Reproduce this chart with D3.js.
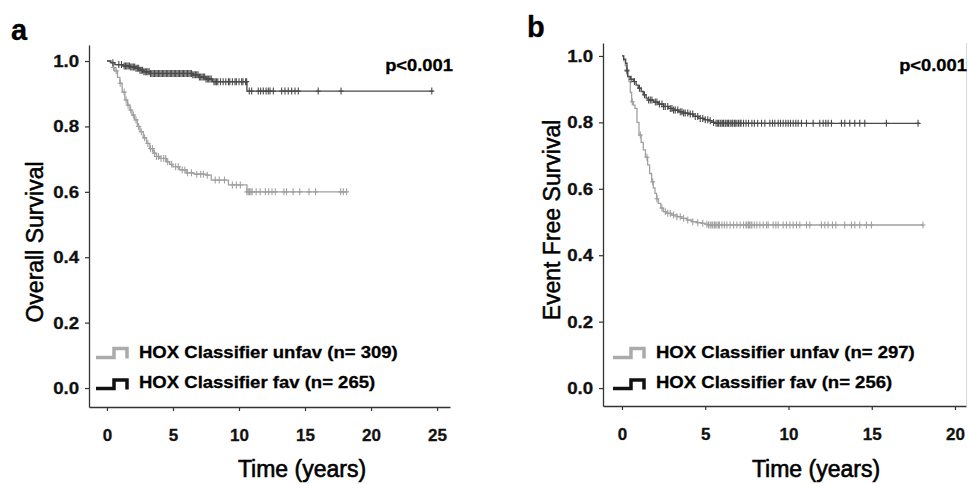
<!DOCTYPE html>
<html>
<head>
<meta charset="utf-8">
<script src="https://cdn.jsdelivr.net/npm/d3@7/dist/d3.min.js"></script>
<style>
  html, body { margin: 0; padding: 0; background: #fff; }
  svg { display: block; font-family: "Liberation Sans", Arial, sans-serif; }
</style>
</head>
<body>
<svg id="chart" width="969" height="484"></svg>
<script>
// ---- Data -------------------------------------------------------------
const survTicks = [0, 0.2, 0.4, 0.6, 0.8, 1.0];
const timeTicksOS = [0, 5, 10, 15, 20, 25];
const timeTicksEFS = [0, 5, 10, 15, 20];

const groupNames = ["HOX Classifier unfav", "HOX Classifier fav"];
const nOS = [309, 265];
const nEFS = [297, 256];
const pValueText = "p<0.001";

// Kaplan-Meier steps: [time (years), survival]
const osUnfav = [[0,1],[0.25,0.995],[0.45,0.98],[0.6,0.97],[0.8,0.95],[0.98,0.932],[1.15,0.905],
  [1.36,0.881],[1.55,0.865],[1.74,0.85],[1.9,0.835],[2.1,0.82],[2.3,0.80],[2.5,0.784],[2.75,0.765],
  [3.0,0.748],[3.25,0.732],[3.5,0.718],[3.75,0.708],[4.0,0.702],[4.5,0.692],[4.75,0.684],[5.0,0.677],
  [5.5,0.667],[6.0,0.658],[6.6,0.654],[7.5,0.651],[7.9,0.636],[9.2,0.621],[10.6,0.60],[18.2,0.60]];
const osFav = [[0,1],[0.3,0.995],[0.6,0.989],[1.2,0.985],[1.74,0.982],[2.2,0.978],[2.5,0.972],
  [2.8,0.967],[3.3,0.962],[6.5,0.958],[7.0,0.951],[7.5,0.945],[8.0,0.937],[10.6,0.908],[24.7,0.908]];
const efsUnfav = [[0,1],[0.1,0.985],[0.2,0.97],[0.28,0.958],[0.35,0.94],[0.42,0.923],[0.5,0.89],
  [0.58,0.862],[0.68,0.852],[0.78,0.842],[0.9,0.80],[1.02,0.762],[1.15,0.74],[1.28,0.717],[1.41,0.695],
  [1.54,0.672],[1.66,0.646],[1.78,0.621],[1.88,0.603],[1.98,0.586],[2.08,0.57],[2.18,0.556],[2.33,0.542],
  [2.48,0.531],[2.7,0.526],[2.98,0.521],[3.3,0.516],[3.58,0.511],[3.9,0.506],[4.18,0.501],[4.5,0.498],
  [4.78,0.496],[5.0,0.493],[5.18,0.491],[18.1,0.491]];
const efsFav = [[0,1],[0.1,0.99],[0.22,0.978],[0.3,0.955],[0.34,0.938],[0.5,0.93],[0.68,0.923],
  [0.85,0.912],[0.98,0.903],[1.15,0.893],[1.28,0.883],[1.45,0.873],[1.58,0.867],[1.9,0.861],[2.18,0.855],
  [2.5,0.848],[2.78,0.842],[3.1,0.837],[3.38,0.832],[3.7,0.828],[3.98,0.825],[4.3,0.818],[4.58,0.812],
  [4.9,0.808],[5.18,0.805],[5.4,0.80],[5.58,0.797],[17.9,0.797]];

// Censoring times (years)
const osUnfavCensor = [0.5,0.7,1.0,1.3,1.45,1.6,1.8,2.0,2.2,2.4,2.6,2.85,3.1,3.3,3.45,3.6,3.75,3.9,4.1,
  4.3,4.45,4.6,4.9,5.2,5.4,5.7,5.9,6.1,6.4,6.8,7.1,7.3,7.6,8.2,8.5,8.9,9.5,9.8,10.1,10.6,10.7,10.8,10.9,
  11.0,11.3,11.6,12.0,12.25,12.5,12.75,13.4,13.6,14.1,14.6,15.3,15.8,17.7,17.9,18.15];
const osFavCensor = [0.45,0.9,1.1,1.3,1.4,1.5,1.6,1.7,1.8,1.9,2.0,2.1,2.2,2.3,2.4,2.5,2.6,2.7,2.8,2.9,
  3.0,3.1,3.2,3.3,3.4,3.5,3.6,3.7,3.8,3.9,4.0,4.1,4.2,4.3,4.4,4.5,4.6,4.7,4.8,4.9,5.0,5.1,5.2,5.3,5.4,
  5.5,5.6,5.7,5.8,5.9,6.0,6.1,6.2,6.3,6.4,6.5,6.6,6.7,6.8,6.9,7.0,7.1,7.2,7.3,7.4,7.5,7.6,7.7,7.8,
  7.9,8.1,8.2,8.3,8.4,8.6,8.8,9.0,9.2,9.3,9.5,9.7,9.8,10.0,10.2,10.3,10.5,
  10.58,10.78,10.96,11.46,11.64,11.84,12.05,12.22,12.35,12.6,13.23,13.48,13.73,13.99,14.24,14.49,16.0,
  17.73,24.6];
const efsUnfavCensor = [0.3,0.62,1.1,1.5,1.85,2.1,2.4,2.6,2.75,2.9,3.1,3.3,3.5,3.7,3.95,4.25,4.55,4.85,
  5.1,5.2,5.3,5.4,5.45,5.55,5.6,5.7,5.8,5.85,6.0,6.15,6.3,6.5,6.7,6.9,7.1,7.3,7.45,7.5,7.6,7.65,7.75,
  7.8,7.95,8.1,8.28,8.48,8.68,8.78,9.08,9.24,9.38,9.68,9.88,10.08,10.28,10.48,10.68,11.08,11.28,11.98,
  12.18,12.38,12.64,12.84,13.38,13.78,13.98,14.28,14.68,14.98,18.08];
const efsFavCensor = [0.3,0.55,0.75,1.05,1.35,1.6,1.7,1.8,2.0,2.1,2.25,2.4,2.5,2.6,2.75,2.9,3.0,3.1,3.2,
  3.35,3.5,3.6,3.7,3.8,3.95,4.1,4.25,4.4,4.55,4.7,4.85,5.0,5.15,5.3,5.5,5.65,5.75,5.8,5.9,5.95,6.05,6.1,
  6.2,6.25,6.35,6.4,6.5,6.6,6.65,6.75,6.8,6.9,7.0,7.1,7.15,7.3,7.45,7.6,7.8,7.95,8.15,8.38,8.58,
  8.88,9.04,9.18,9.38,9.52,9.68,9.84,9.98,10.12,10.28,10.44,10.58,10.78,11.08,11.48,11.88,12.08,12.24,
  12.38,12.58,13.18,13.38,13.68,13.98,14.28,14.58,15.88,17.78];

// ---- Drawing -----------------------------------------------------------
const svg = d3.select("#chart");
const FONT = "\"Liberation Sans\", Arial, sans-serif";
const colUnfav = "#a0a0a0";
const colFav = "#4a4a4a";

function survAt(curve, t) {
  const i = d3.bisector(d => d[0]).right(curve, t) - 1;
  return curve[Math.max(0, i)][1];
}

function addText(g, x, y, str, o) {
  const t = g.append("text")
    .attr("transform", `translate(${x},${y})` + (o.rotate ? ` rotate(${o.rotate})` : "") + ` scale(${o.sx || 1},1)`)
    .attr("text-anchor", o.anchor || "start")
    .attr("font-size", o.size)
    .attr("font-weight", o.weight || "normal")
    .attr("fill", o.fill || "#000")
    .attr("stroke", o.fill || "#000")
    .attr("stroke-width", o.sw || 0.3)
    .text(str);
  return t;
}

function panel(cfg) {
  const g = svg.append("g");
  const x = d3.scaleLinear().domain(cfg.xDomain).range(cfg.xRange);
  const y = d3.scaleLinear().domain(cfg.yDomain).range(cfg.yRange);

  // axes
  const ya = g.append("g").attr("transform", `translate(${cfg.xRange[0]},0)`)
    .call(d3.axisLeft(y).tickValues(survTicks).tickFormat(d3.format(".1f"))
      .tickSize(4).tickSizeOuter(0).tickPadding(5));
  const xa = g.append("g").attr("transform", `translate(0,${cfg.yRange[0]})`)
    .call(d3.axisBottom(x).tickValues(cfg.xTicks).tickFormat(d3.format("d"))
      .tickSize(4).tickSizeOuter(0).tickPadding(18));
  [ya, xa].forEach(a => {
    a.select(".domain").attr("stroke", "#333").attr("stroke-width", 1.3);
    a.selectAll(".tick line").attr("stroke", "#333").attr("stroke-width", 1.2);
    a.selectAll(".tick text").attr("fill", "#111").attr("font-size", 17)
      .attr("stroke", "#111").attr("stroke-width", 0.3)
      .attr("font-weight", "bold").attr("font-family", FONT);
  });
  ya.selectAll(".tick text").attr("transform", "scale(1.1,1)");

  if (cfg.rightEdge) {
    g.append("line").attr("x1", cfg.xRange[1] + 0.5).attr("x2", cfg.xRange[1] + 0.5)
      .attr("y1", cfg.yRange[1]).attr("y2", cfg.yRange[0])
      .attr("stroke", "#d8d8d8").attr("stroke-width", 1);
  }

  const line = d3.line().x(d => x(d[0])).y(d => y(d[1])).curve(d3.curveStepAfter);
  const series = [
    { curve: cfg.unfav, censor: cfg.unfavCensor, color: colUnfav },
    { curve: cfg.fav, censor: cfg.favCensor, color: colFav }
  ];
  series.forEach(s => {
    g.append("path").datum(s.curve).attr("d", line)
      .attr("fill", "none").attr("stroke", s.color).attr("stroke-width", 1.3);
    g.append("g").selectAll("path").data(s.censor).join("path")
      .attr("transform", t => `translate(${x(t)},${y(survAt(s.curve, t))})`)
      .attr("d", "M-2.5,0H2.5M0,-3.5V3.5")
      .attr("fill", "none").attr("stroke", s.color).attr("stroke-width", 1.1);
  });

  // p value
  addText(g, cfg.pPos[0], cfg.pPos[1], pValueText, { size: 17, weight: "bold", anchor: "end", sx: 1.08 });

  // legend
  const lx = cfg.legendX;
  const glyph = (yLow, yHigh, color) => g.append("path")
    .attr("d", `M${lx},${yLow}H${lx + 18}V${yHigh}H${lx + 31}V${yLow + 1}`)
    .attr("fill", "none").attr("stroke", color).attr("stroke-width", 3.5);
  glyph(357.5, 348.5, "#ababab");
  glyph(388.5, 380, "#111");
  addText(g, lx + 43, 357.5, `${groupNames[0]} (n= ${cfg.n[0]})`, { size: 17, weight: "bold", sx: 1.09 });
  addText(g, lx + 43, 387.5, `${groupNames[1]} (n= ${cfg.n[1]})`, { size: 17, weight: "bold", sx: 1.09 });

  // axis titles
  addText(g, cfg.xTitle[0], cfg.xTitle[1], "Time (years)", { size: 23, anchor: "middle", sw: 0.6 });
  addText(g, cfg.yTitle[0], cfg.yTitle[1], cfg.yTitleText, { size: 23, anchor: "middle", rotate: -90, sw: 0.5 });

  // panel letter
  addText(g, cfg.letterPos[0], cfg.letterPos[1], cfg.letter, { size: 29, weight: "bold" });
}

panel({
  xDomain: [-1.36, 25.98], xRange: [89, 450],
  yDomain: [-0.058, 1.049], yRange: [407, 45],
  xTicks: timeTicksOS,
  unfav: osUnfav, fav: osFav, unfavCensor: osUnfavCensor, favCensor: osFavCensor,
  n: nOS, pPos: [453, 71], legendX: 96,
  xTitle: [302, 477], yTitle: [43, 242], yTitleText: "Overall Survival",
  letter: "a", letterPos: [11, 40]
});

panel({
  xDomain: [-1.14, 20.66], xRange: [603, 966],
  yDomain: [-0.054, 1.039], yRange: [406, 43],
  xTicks: timeTicksEFS,
  unfav: efsUnfav, fav: efsFav, unfavCensor: efsUnfavCensor, favCensor: efsFavCensor,
  n: nEFS, pPos: [967, 71], legendX: 613, rightEdge: true,
  xTitle: [816, 477], yTitle: [560, 220], yTitleText: "Event Free Survival",
  letter: "b", letterPos: [527, 37]
});
</script>
</body>
</html>
